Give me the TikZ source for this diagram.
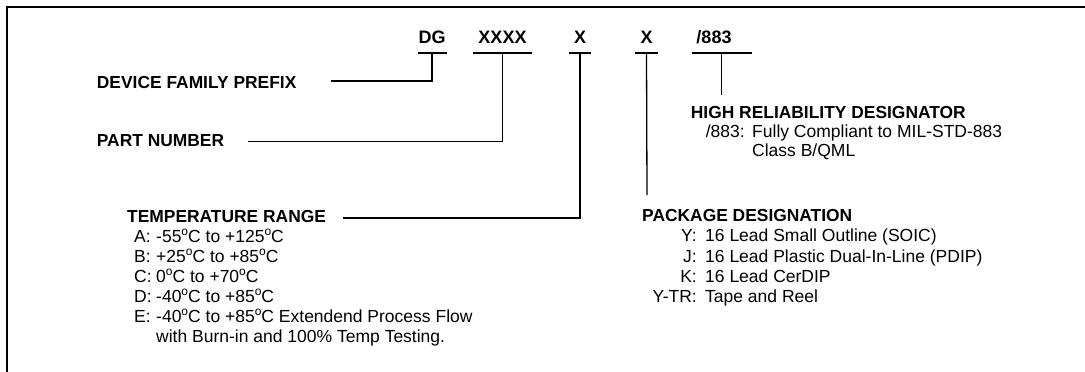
\documentclass[tikz,border=0pt]{standalone}
\usepackage{fontspec}
\setmainfont{Liberation Sans}
\tikzset{
 lbl/.style={anchor=base west, inner sep=0pt, font=\fontsize{17.5}{20}\selectfont},
 lblr/.style={anchor=base east, inner sep=0pt, font=\fontsize{17.5}{20}\selectfont},
 head/.style={anchor=base west, inner sep=0pt, font=\fontsize{17.4}{20}\selectfont\bfseries},
 code/.style={anchor=base, inner sep=0pt, font=\fontsize{18}{20}\selectfont\bfseries},
 conn/.style={line width=1.3pt},
 frame/.style={line width=2.2pt},
}
\newcommand\dg{\raisebox{0.75ex}{\fontsize{12}{12}\selectfont o}}
\begin{document}
\begin{tikzpicture}[x=1pt,y=-1pt]
\useasboundingbox (0,0) rectangle (1085,372);
\draw[frame] (7,372) -- (7,7) -- (1085,7);

% part number codes
\node[code] (dg) at (432,43) {DG};
\node[code] (xxxx) at (502.5,43) {XXXX};
\node[code] (xt) at (580,43) {X};
\node[code] (xp) at (646.5,43) {X};
\node[code] (rel) at (714,43) {/883};

% underlines
\coordinate (dgL) at (418,53);   \coordinate (dgR) at (447,53);
\coordinate (xxL) at (473,53);   \coordinate (xxR) at (532,53);
\coordinate (xtL) at (569,53);   \coordinate (xtR) at (591,53);
\coordinate (xpL) at (635,53);   \coordinate (xpR) at (658,53);
\coordinate (rlL) at (692,53);   \coordinate (rlR) at (752,53);
\draw[conn] (dgL) -- (dgR);
\draw[conn] (xxL) -- (xxR);
\draw[conn] (xtL) -- (xtR);
\draw[conn] (xpL) -- (xpR);
\draw[conn] (rlL) -- (rlR);

% labels
\node[head] (dev) at (96.7,88.3) {DEVICE FAMILY PREFIX};
\node[head] (part) at (96.7,146.7) {PART NUMBER};
\node[head] (temp) at (127,222) {TEMPERATURE RANGE};
\node[head] (pkg) at (642,221.5) {PACKAGE DESIGNATION};
\node[head] (hrd) at (690.7,118) {HIGH RELIABILITY DESIGNATOR};

% connectors
\coordinate (devEnd) at (331,81);
\coordinate (partEnd) at (248.3,141.7);
\coordinate (tempEnd) at (343,218);
\coordinate (xpEnd) at (647,195);
\coordinate (rlTop) at (721.7,53);
\coordinate (rlEnd) at (721.7,95);
\draw[conn] (devEnd) -| (dg.base |- dgL);
\draw[conn] (partEnd) -| (xxxx.base |- xxL);
\draw[conn] (tempEnd) -| (xt.base |- xtL);
\draw[conn] (xp.base |- xpL) -- (xpEnd);
\draw[conn] (rlTop) -- (rlEnd);

% high reliability
\node[lblr] (h1) at (745,137) {/883:};
\node[lbl] (h1v) at (752,137) {Fully Compliant to MIL-STD-883};
\node[lbl] (h2v) at (752,156) {Class B/QML};

% temperature list
\node[lbl] (tA) at (134,242) {A:};
\node[lbl] (tAv) at (156,242) {-55\dg C to +125\dg C};
\node[lbl] (tB) at (134,262) {B:};
\node[lbl] (tBv) at (156,262) {+25\dg C to +85\dg C};
\node[lbl] (tC) at (134,282) {C:};
\node[lbl] (tCv) at (156,282) {0\dg C to +70\dg C};
\node[lbl] (tD) at (134,302) {D:};
\node[lbl] (tDv) at (156,302) {-40\dg C to +85\dg C};
\node[lbl] (tE) at (134,322) {E:};
\node[lbl] (tEv) at (156,322) {-40\dg C to +85\dg C Extendend Process Flow};
\node[lbl] (tE2) at (156,342) {with Burn-in and 100\% Temp Testing.};

% package list
\node[lblr] (pY) at (697,241.5) {Y:};
\node[lbl] (pYv) at (705,241.5) {16 Lead Small Outline (SOIC)};
\node[lblr] (pJ) at (697,262) {J:};
\node[lbl] (pJv) at (705,262) {16 Lead Plastic Dual-In-Line (PDIP)};
\node[lblr] (pK) at (697,282) {K:};
\node[lbl] (pKv) at (705,282) {16 Lead CerDIP};
\node[lblr] (pT) at (697,302) {Y-TR:};
\node[lbl] (pTv) at (705,302) {Tape and Reel};
\end{tikzpicture}
\end{document}
